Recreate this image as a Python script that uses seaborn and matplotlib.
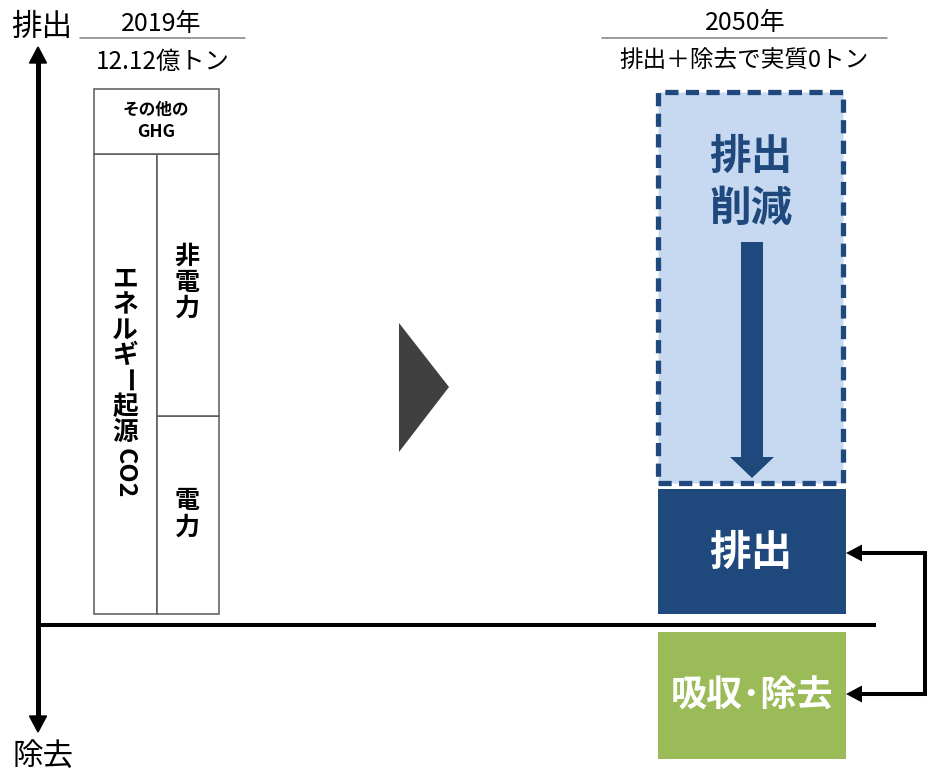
import matplotlib
matplotlib.use("Agg")
import matplotlib.pyplot as plt
import matplotlib.transforms as mtransforms
from matplotlib.patches import Polygon
import seaborn as sns

# ---------------- data ----------------
years = ["2019年", "2050年"]
subtitles = ["12.12億トン", "排出＋除去で実質0トン"]
axis_labels = ["排出", "除去"]
segments_2019 = ["電力", "非電力", "その他の\nGHG"]
values_2019 = [4.57, 6.05, 1.50]          # 億トン (total 12.12)
energy_label = "エネルギー起源CO2"
segments_2050 = ["排出", "吸収･除去", "排出\n削減"]
values_2050 = [2.89, -2.93, 9.03]         # emission, removal, reduction

# ---------------- style ----------------
sns.set_theme(style="white")
plt.rcParams['font.family'] = ['Noto Sans CJK JP', 'DejaVu Sans']

NAVY = "#1F497D"
LIGHT = "#C6D9F1"
GREEN = "#9BBB59"
EDGE = "#595959"

W, H = 928, 772
fig = plt.figure(figsize=(W / 100, H / 100), dpi=100)
ax = fig.add_axes([0, 0, 1, 1])
S = 43.32      # pixels per unit
BASE = 625     # baseline pixel row


def U(py):
    return (BASE - py) / S


ax.set_xlim(0, W)
ax.set_ylim(U(H), U(0))
ax.axis("off")
px = mtransforms.Affine2D().scale(1 / W, -1 / H).translate(0, 1) + fig.transFigure

# ---------------- 2019 bars ----------------
gap = U(614)
power, nonpower, other = values_2019
energy = power + nonpower
box = dict(facecolor="white", edgecolor=EDGE, linewidth=1.1)
ax.bar(125.5, energy, width=63, bottom=gap, **box)
ax.bar(188, power, width=62, bottom=gap, **box)
ax.bar(188, nonpower, width=62, bottom=gap + power, **box)
ax.bar(156.5, other, width=125, bottom=gap + energy, **box)

# ---------------- 2050 bars ----------------
emis, remov, reduc = values_2050
ax.bar(752, emis, width=188, bottom=gap, color=NAVY, linewidth=0)
ax.bar(752, remov, width=188, bottom=U(632), color=GREEN, linewidth=0)
ax.bar(750.75, reduc, width=184.5, bottom=U(483), facecolor=LIGHT,
       edgecolor=NAVY, linewidth=3.8, linestyle=(0, (2.5, 1.4)))

# ---------------- axes arrows ----------------
ax.plot([38, 38], [60, 720], color="black", lw=3.6, transform=px,
        solid_capstyle="butt")
ax.add_patch(Polygon([(38, 47), (29.5, 63), (46.5, 63)], closed=True,
                     color="black", transform=px))
ax.add_patch(Polygon([(38, 732), (29.5, 716), (46.5, 716)], closed=True,
                     color="black", transform=px))
ax.plot([38, 876], [625, 625], color="black", lw=2.9, transform=px,
        solid_capstyle="butt")

# header rules
ax.plot([80, 245], [38, 38], color="#7F7F7F", lw=1.1, transform=px)
ax.plot([602, 887], [38, 38], color="#7F7F7F", lw=1.1, transform=px)

# middle triangle
ax.add_patch(Polygon([(399, 323), (399, 452), (449, 387)], closed=True,
                     color="#404040", transform=px, lw=0))

# down arrow in reduction box
ax.add_patch(Polygon([(741, 242), (763, 242), (763, 457), (774, 457),
                      (752, 478), (730, 457), (741, 457)], closed=True,
                     color=NAVY, transform=px, lw=0))

# connector on the right
ax.plot([858, 925, 925, 858], [553, 553, 694, 694], color="black", lw=2.9,
        transform=px, solid_joinstyle="miter", solid_capstyle="butt")
for yy in (553, 694):
    ax.add_patch(Polygon([(846, yy), (862, yy - 8.5), (862, yy + 8.5)],
                         closed=True, color="black", transform=px, lw=0))

# ---------------- texts ----------------
def T(x, y, s, size, bold=False, color="black", rot=0):
    ax.text(x, y, s, transform=px, ha="center", va="center", fontsize=size,
            fontweight="bold" if bold else "normal", color=color,
            rotation=rot, rotation_mode="anchor")


T(42, 27, axis_labels[0], 22)
T(43, 757, axis_labels[1], 22)
T(161, 24, years[0], 18)
T(163, 62, subtitles[0], 17.5)
T(745, 23, years[1], 18)
T(744, 61, subtitles[1], 17)

ghg1, ghg2 = segments_2019[2].split("\n")
T(156, 110, ghg1, 12, bold=True)
T(156, 132, ghg2, 12.5, bold=True)

# vertical label of energy CO2
chars = list(energy_label[:7])
for i, ch in enumerate(chars):
    T(125, 279 + 25.5 * i, ch, 18.5, bold=True, rot=-90 if ch == "ー" else 0)
T(125, 473, energy_label[7:], 18, bold=True, rot=-90)

for i, ch in enumerate(segments_2019[1]):
    T(187, 257 + 26 * i, ch, 18, bold=True)
for i, ch in enumerate(segments_2019[0]):
    T(187, 501 + 27 * i, ch, 18, bold=True)

r1, r2 = segments_2050[2].split("\n")
T(751, 157, r1, 30, bold=True, color=NAVY)
T(751, 209, r2, 30, bold=True, color=NAVY)
T(751, 553, segments_2050[0], 30, bold=True, color="white")
T(752, 696, segments_2050[1], 26, bold=True, color="white")

fig.savefig("out.png", dpi=100)
